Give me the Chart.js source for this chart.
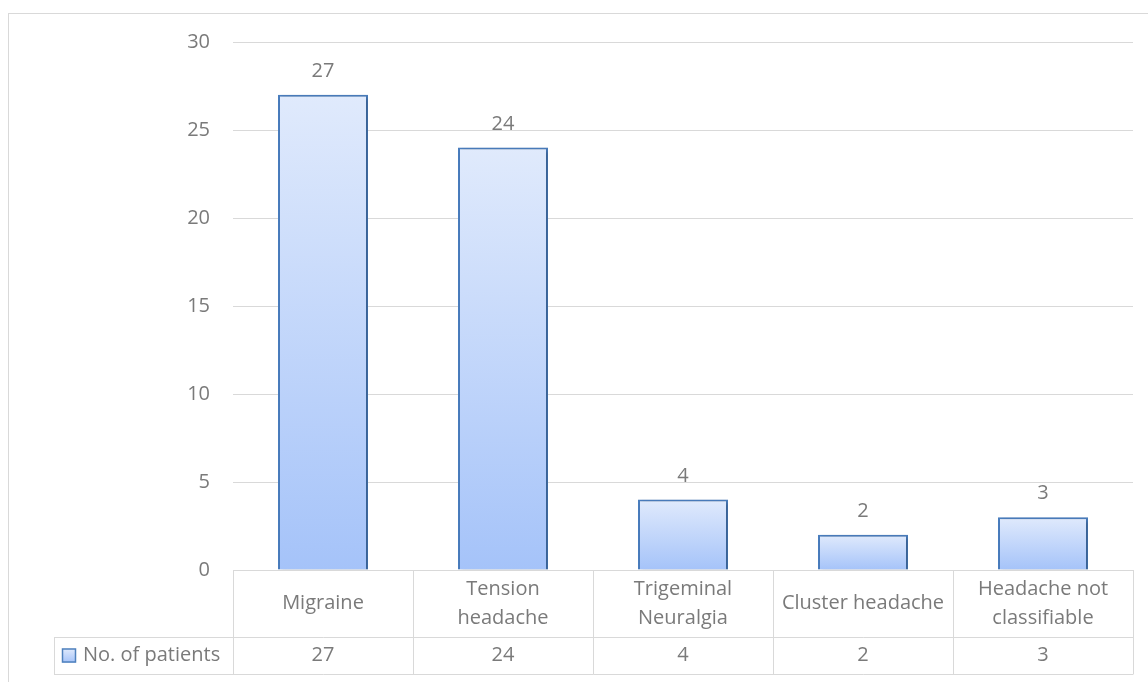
<!DOCTYPE html>
<html>
<head>
<meta charset="utf-8">
<script src="https://cdn.jsdelivr.net/npm/chart.js@4/dist/chart.umd.min.js"></script>
<style>
  html, body { margin: 0; padding: 0; background: #ffffff; }
  #wrap { width: 1148px; height: 682px; position: relative; }
</style>
</head>
<body>
<div id="wrap"><canvas id="chartCanvas"></canvas></div>
<script>
const categories = [
    ["Migraine"],
    ["Tension", "headache"],
    ["Trigeminal", "Neuralgia"],
    ["Cluster headache"],
    ["Headache not", "classifiable"]
];
const seriesName = "No. of patients";
const patients = [27, 24, 4, 2, 3];
const yTicks = [0, 5, 10, 15, 20, 25, 30];

const FONT = "'Open Sans', Lato, sans-serif";
const textColor = "#7a7a7a";
const lineColor = "#d9d9d9";

function barGradient(ctx, top, bottom) {
    const g = ctx.createLinearGradient(0, top, 0, bottom);
    g.addColorStop(0, "#e0eafc");
    g.addColorStop(1, "#a5c3f9");
    return g;
}

// frame, value labels and the data table under the plot
const tablePlugin = {
    id: "tablePlugin",
    beforeDraw(chart) {
        const ctx = chart.ctx;
        ctx.save();
        ctx.strokeStyle = lineColor;
        ctx.lineWidth = 1;
        ctx.strokeRect(8.5, 13.5, 1160, 700);
        ctx.restore();
    },
    beforeDatasetsDraw(chart) {
        const ctx = chart.ctx;
        ctx.save();
        ctx.shadowColor = "rgba(0,0,0,0.28)";
        ctx.shadowBlur = 4;
        ctx.shadowOffsetX = 1.5;
        ctx.shadowOffsetY = 1.5;
    },
    afterDatasetsDraw(chart) {
        const ctx = chart.ctx;
        ctx.restore();
        const meta = chart.getDatasetMeta(0);
        ctx.save();
        ctx.font = "20px " + FONT;
        ctx.fillStyle = textColor;
        ctx.textAlign = "center";
        ctx.textBaseline = "alphabetic";
        meta.data.forEach(function (bar, i) {
            ctx.fillText(String(patients[i]), bar.x, bar.y - 18);
        });
        ctx.restore();
    },
    afterDraw(chart) {
        const ctx = chart.ctx;
        const x = chart.scales.x;
        const area = chart.chartArea;
        const top = area.bottom;
        const mid = top + 67;
        const bot = top + 104;
        const legendLeft = 54;
        const step = (area.right - area.left) / categories.length;

        ctx.save();
        ctx.strokeStyle = lineColor;
        ctx.lineWidth = 1;
        ctx.beginPath();
        // horizontal lines
        ctx.moveTo(legendLeft, Math.round(mid) + 0.5);
        ctx.lineTo(area.right, Math.round(mid) + 0.5);
        ctx.moveTo(legendLeft, Math.round(bot) + 0.5);
        ctx.lineTo(area.right, Math.round(bot) + 0.5);
        // left edge of legend cell
        ctx.moveTo(legendLeft + 0.5, Math.round(mid) + 0.5);
        ctx.lineTo(legendLeft + 0.5, Math.round(bot) + 0.5);
        // category boundaries
        for (let i = 0; i <= categories.length; i++) {
            const bx = Math.round(x.getPixelForValue(i) - step / 2) + 0.5;
            ctx.moveTo(bx, Math.round(top));
            ctx.lineTo(bx, Math.round(bot) + 0.5);
        }
        ctx.stroke();

        ctx.font = "20px " + FONT;
        ctx.fillStyle = textColor;
        ctx.textAlign = "center";
        ctx.textBaseline = "middle";
        categories.forEach(function (lines, i) {
            const cx = x.getPixelForValue(i);
            const cy = (top + mid) / 2;
            const lh = 29;
            lines.forEach(function (ln, j) {
                ctx.fillText(ln, cx, cy + (j - (lines.length - 1) / 2) * lh);
            });
            ctx.fillText(String(patients[i]), cx, (mid + bot) / 2);
        });

        // legend key
        const ky = (mid + bot) / 2;
        ctx.fillStyle = barGradient(ctx, ky - 7, ky + 7);
        ctx.fillRect(62, ky - 7, 14, 14);
        ctx.strokeStyle = "#4f81bd";
        ctx.lineWidth = 1.5;
        ctx.strokeRect(62.5, ky - 6.5, 13, 13);
        ctx.fillStyle = textColor;
        ctx.textAlign = "left";
        ctx.fillText(seriesName, 83, ky);
        ctx.restore();
    }
};

const ctx = document.getElementById("chartCanvas").getContext("2d");

const chart = new Chart(ctx, {
    type: "bar",
    data: {
        labels: categories.map(function (c) { return c.join(" "); }),
        datasets: [{
            label: seriesName,
            data: patients,
            backgroundColor: function (context) {
                const c = context.chart;
                if (!c.chartArea || !c.scales.y) {
                    return "#c3d6fa";
                }
                const v = context.raw;
                const y = c.scales.y;
                return barGradient(c.ctx, y.getPixelForValue(v), y.getPixelForValue(0));
            },
            borderColor: "#4a7ebf",
            borderWidth: 2,
            borderSkipped: "bottom",
            categoryPercentage: 1.0,
            barPercentage: 0.5
        }]
    },
    options: {
        responsive: true,
        maintainAspectRatio: false,
        animation: false,
        layout: {
            padding: { left: 0, top: 42, right: 15, bottom: 112 }
        },
        plugins: {
            legend: { display: false },
            tooltip: { enabled: false }
        },
        scales: {
            x: {
                display: false
            },
            y: {
                min: 0,
                max: 30,
                afterFit: function (scale) { scale.width = 233; },
                afterBuildTicks: function (scale) {
                    scale.ticks = yTicks.map(function (v) { return { value: v }; });
                },
                grid: { color: lineColor, lineWidth: 1, drawTicks: false },
                border: { display: false },
                ticks: {
                    color: textColor,
                    padding: 23,
                    font: { family: FONT, size: 20 }
                }
            }
        }
    },
    plugins: [tablePlugin]
});
</script>
</body>
</html>
